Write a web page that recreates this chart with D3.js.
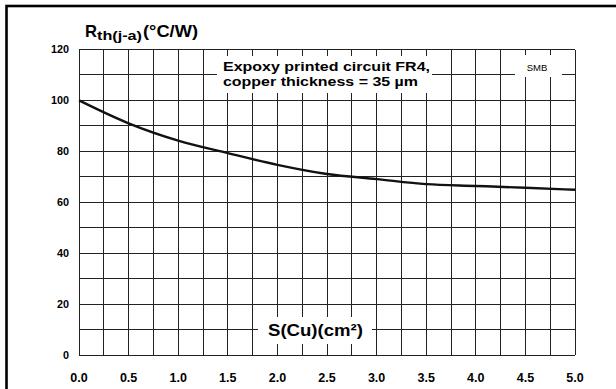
<!DOCTYPE html>
<html>
<head>
<meta charset="utf-8">
<script src="https://cdn.jsdelivr.net/npm/d3@7/dist/d3.min.js"></script>
<style>
  html, body { margin: 0; padding: 0; background: #fff; }
  svg { display: block; font-family: "Liberation Sans", Arial, sans-serif; }
</style>
</head>
<body>
<svg id="svg" width="616" height="389"></svg>
<script>
// copper area S(Cu) in cm² and thermal resistance Rth(j-a) in °C/W
const areaCu = [0.0, 0.5, 1.0, 1.5, 2.0, 2.5, 3.0, 3.5, 4.0, 4.5, 5.0];
const rthJa  = [100, 91.0, 84.2, 79.3, 74.7, 71.1, 69.1, 67.1, 66.4, 65.7, 64.9];

const xTicks = [0, 0.5, 1.0, 1.5, 2.0, 2.5, 3.0, 3.5, 4.0, 4.5, 5.0];
const yTicks = [0, 20, 40, 60, 80, 100, 120];
const xGrid  = d3.range(0, 21).map(i => i * 0.25);
const yGrid  = d3.range(0, 13).map(i => i * 10);

const svg = d3.select('#svg');

const x = d3.scaleLinear().domain([0, 5]).range([79, 575]);
const y = d3.scaleLinear().domain([0, 120]).range([355, 49.5]);

// --- Frame ---
svg.append('rect')
    .attr('x', 6.5).attr('y', 6)
    .attr('width', 640).attr('height', 420)
    .attr('fill', 'none')
    .attr('stroke', '#000')
    .attr('stroke-width', 2.6);

// --- Grid ---
const grid = svg.append('g')
    .attr('stroke', '#222')
    .attr('stroke-width', 1)
    .attr('shape-rendering', 'crispEdges');

grid.selectAll('line.v')
    .data(xGrid).join('line')
    .attr('class', 'v')
    .attr('x1', d => x(d)).attr('x2', d => x(d))
    .attr('y1', y(120)).attr('y2', y(0));

grid.selectAll('line.h')
    .data(yGrid).join('line')
    .attr('class', 'h')
    .attr('x1', x(0)).attr('x2', x(5))
    .attr('y1', d => y(d)).attr('y2', d => y(d));

// --- Curve ---
const pts = areaCu.map((a, i) => [a, rthJa[i]]);
svg.append('path')
    .datum(pts)
    .attr('fill', 'none')
    .attr('stroke', '#111')
    .attr('stroke-width', 2.4)
    .attr('d', d3.line()
        .x(d => x(d[0]))
        .y(d => y(d[1]))
        .curve(d3.curveMonotoneX));

// helper: bold label stretched to the width seen in the reference
function label(x0, y0, size, width, txt, weight = 'bold') {
    return svg.append('text')
        .attr('x', x0).attr('y', y0)
        .attr('font-size', size).attr('font-weight', weight)
        .attr('textLength', width)
        .attr('lengthAdjust', 'spacingAndGlyphs')
        .text(txt);
}

// --- Labels with white backgrounds ---
svg.append('rect')
    .attr('x', 217).attr('y', 56).attr('width', 215).attr('height', 37)
    .attr('fill', '#fff');
label(223, 71, 13.5, 207, 'Expoxy printed circuit FR4,');
label(223, 86, 13.5, 195, 'copper thickness = 35 µm');

svg.append('rect')
    .attr('x', 515).attr('y', 55).attr('width', 47).attr('height', 22)
    .attr('fill', '#fff');
svg.append('text')
    .attr('x', 537).attr('y', 71)
    .attr('text-anchor', 'middle')
    .attr('font-size', 9.5)
    .text('SMB');

svg.append('rect')
    .attr('x', 258).attr('y', 317).attr('width', 114).attr('height', 27)
    .attr('fill', '#fff');
label(268, 336, 16.5, 95, 'S(Cu)(cm²)');

// --- Y title ---
label(85, 37, 16.3, 12, 'R');
label(97, 39.5, 13.5, 45, 'th(j-a)');
label(143, 37, 16.3, 55, '(°C/W)');

// --- Tick labels ---
svg.append('g')
    .selectAll('text')
    .data(yTicks).join('text')
    .attr('x', 69)
    .attr('y', d => y(d))
    .attr('dy', '0.36em')
    .attr('text-anchor', 'end')
    .attr('font-size', 10.8).attr('font-weight', 'bold')
    .text(d => d);

svg.append('g')
    .selectAll('text')
    .data(xTicks).join('text')
    .attr('x', d => x(d))
    .attr('y', 382)
    .attr('text-anchor', 'middle')
    .attr('font-size', 12.5).attr('font-weight', 'bold')
    .text(d => d.toFixed(1));
</script>
</body>
</html>
